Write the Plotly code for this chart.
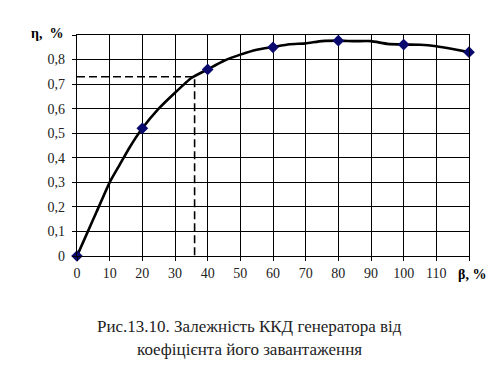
import plotly.graph_objects as go

# curve
beta_curve = [0, 3, 6, 10, 13, 16, 20, 25, 30, 35, 40, 45, 50, 55, 60, 65, 70, 75, 80, 85, 90, 95, 100, 105, 110, 115, 120]
eta_curve = [0, 0.09, 0.18, 0.30, 0.37, 0.44, 0.52, 0.60, 0.665, 0.725, 0.76, 0.795, 0.82, 0.84, 0.851, 0.862,
             0.866, 0.875, 0.877, 0.875, 0.875, 0.864, 0.861, 0.86, 0.854, 0.843, 0.83]

# marker points
beta_pts = [0, 20, 40, 60, 80, 100, 120]
eta_pts = [0, 0.52, 0.76, 0.85, 0.877, 0.861, 0.83]

# operating point (dashed guide)
beta_op = 36
eta_op = 0.73

x_ticks = [0, 10, 20, 30, 40, 50, 60, 70, 80, 90, 100, 110, 120]
x_labels = ["0", "10", "20", "30", "40", "50", "60", "70", "80", "90", "100", "110", ""]
y_ticks = [0, 0.1, 0.2, 0.3, 0.4, 0.5, 0.6, 0.7, 0.8, 0.9]
y_labels = ["0", "0,1", "0,2", "0,3", "0,4", "0,5", "0,6", "0,7", "0,8", ""]

FONT = "Liberation Serif, Times New Roman, DejaVu Serif, serif"

fig = go.Figure()
fig.add_trace(go.Scatter(x=[0, beta_op, beta_op], y=[eta_op, eta_op, 0], mode="lines",
                         line=dict(color="black", width=1.6, dash="8px,4px"), hoverinfo="skip"))
fig.add_trace(go.Scatter(x=beta_curve, y=eta_curve, mode="lines",
                         line=dict(color="black", width=2.6, shape="spline", smoothing=0.4)))
fig.add_trace(go.Scatter(x=beta_pts, y=eta_pts, mode="markers",
                         marker=dict(symbol="diamond", size=9, color="#0a0a6e"), cliponaxis=False))

axis_common = dict(showgrid=True, gridcolor="black", gridwidth=1.3, showline=True, linecolor="black",
                   linewidth=1.3, mirror=True, ticks="outside", ticklen=4, tickcolor="black", tickwidth=1.3,
                   zeroline=False, tickfont=dict(family=FONT, size=14, color="#222"))
fig.update_xaxes(range=[0, 120], tickvals=x_ticks, ticktext=x_labels, **axis_common)
fig.update_yaxes(range=[0, 0.9], tickvals=y_ticks, ticktext=y_labels, ticklabelstandoff=4, **axis_common)

fig.add_annotation(x=0, y=1.0, xref="paper", yref="paper", xanchor="right", yanchor="middle",
                   xshift=-12, yshift=2, text="<b>η,  %</b>", showarrow=False,
                   font=dict(family=FONT, size=14, color="black"))
fig.add_annotation(x=1.0, y=0, xref="paper", yref="paper", xanchor="right", yanchor="middle",
                   xshift=19, yshift=-18, text="<b>β, %</b>", showarrow=False,
                   font=dict(family=FONT, size=14, color="black"))
fig.add_annotation(x=(249 - 77) / (469 - 77), y=(256 - 326) / (256 - 35), xref="paper", yref="paper",
                   xanchor="center", yanchor="middle",
                   text="Рис.13.10. Залежність ККД генератора від", showarrow=False,
                   font=dict(family=FONT, size=17, color="#222"))
fig.add_annotation(x=(249 - 77) / (469 - 77), y=(256 - 349) / (256 - 35), xref="paper", yref="paper",
                   xanchor="center", yanchor="middle",
                   text="коефіцієнта його завантаження", showarrow=False,
                   font=dict(family=FONT, size=17, color="#222"))

fig.update_layout(width=501, height=380, margin=dict(l=77, r=32, t=35, b=124, autoexpand=False),
                  paper_bgcolor="white", plot_bgcolor="white", showlegend=False)
fig.write_html("out.html", config={"displayModeBar": False},
               post_script="document.body.style.margin='0';document.body.style.padding='0';")
